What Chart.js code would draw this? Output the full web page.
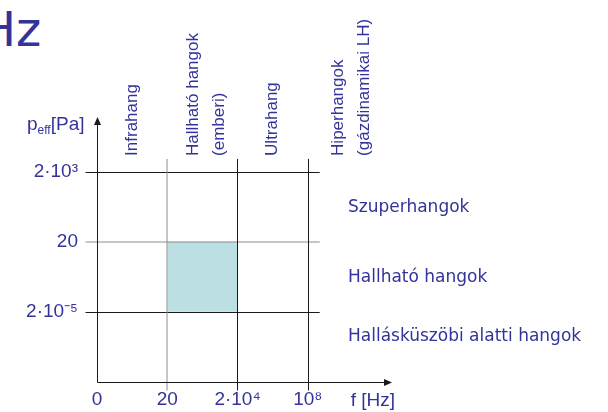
<!DOCTYPE html>
<html>
<head>
<meta charset="utf-8">
<script src="https://cdn.jsdelivr.net/npm/chart.js@4/dist/chart.umd.min.js"></script>
<style>
  html, body { margin:0; padding:0; background:#fff; }
  #wrap { position:relative; width:608px; height:412px; overflow:hidden; }
  #title { position:absolute; left:-20px; top:-1px; font:48px "DejaVu Sans", sans-serif; color:#333399; line-height:60px; }
  canvas { position:absolute; left:0; top:0; }
</style>
</head>
<body>
<div id="wrap">
  <div id="title">Hz</div>
  <canvas id="c" width="608" height="412"></canvas>
</div>
<script>
// frequency ticks (x) and effective pressure ticks (y), schematic axes
const freqLabels = ['0', '20', '2·10⁴', '10⁸'];
const pressureLabels = ['2·10⁻⁵', '20', '2·10³'];   // at levels 1, 2, 3
// frequency bands (rotated, above the grid)
const bandLabels = [['Infrahang'], ['Hallható hangok', '(emberi)'], ['Ultrahang'], ['Hiperhangok', '(gázdinamikai LH)']];
// pressure bands (right side), bottom to top
const levelLabels = ['Hallásküszöbi alatti hangok', 'Hallható hangok', 'Szuperhangok'];
// audible region: 20 Hz .. 2·10⁴ Hz, 2·10⁻⁵ Pa .. 20 Pa (tick indices)
const audibleFreq = [1, 2];
const audiblePressure = [1, 2];

const BLUE = '#333399';
const INK = '#1a1a1a';
const tickFont = { family: '"Liberation Sans", Arial, sans-serif', size: 19 };

const slidePlugin = {
  id: 'slide',
  afterDatasetsDraw(chart){
    const ctx = chart.ctx;
    const xs = chart.scales.x, ys = chart.scales.y;
    const area = chart.chartArea;
    const x0 = Math.round(area.left) + 0.5, y0 = Math.round(area.bottom) + 0.5;
    const xPix = freqLabels.map((_, i) => xs.getPixelForValue(i));
    const yPix = pressureLabels.map((_, i) => ys.getPixelForValue(i + 1));
    const lastX = xPix[xPix.length - 1], topY = yPix[yPix.length - 1];

    ctx.save();
    ctx.lineWidth = 1;
    // horizontal level lines
    yPix.forEach((p, i) => {
      const soft = i === 1;
      const y = soft ? Math.round(p) : Math.round(p) + 0.5;
      ctx.strokeStyle = soft ? '#8c8c8c' : INK;
      ctx.beginPath(); ctx.moveTo(x0 - 12, y); ctx.lineTo(lastX + 12, y); ctx.stroke();
    });
    // vertical frequency lines
    xPix.slice(1).forEach((p, i) => {
      const soft = i === 0;
      const x = soft ? Math.round(p) : Math.round(p) + 0.5;
      ctx.strokeStyle = soft ? '#8c8c8c' : INK;
      ctx.beginPath(); ctx.moveTo(x, topY - 13); ctx.lineTo(x, y0 + 8); ctx.stroke();
    });
    // axes with arrows
    ctx.strokeStyle = INK; ctx.fillStyle = INK;
    ctx.beginPath(); ctx.moveTo(x0, y0); ctx.lineTo(x0, area.top + 6); ctx.stroke();
    ctx.beginPath(); ctx.moveTo(x0, area.top + 1); ctx.lineTo(x0 - 3.5, area.top + 9); ctx.lineTo(x0 + 3.5, area.top + 9); ctx.closePath(); ctx.fill();
    ctx.beginPath(); ctx.moveTo(x0, y0); ctx.lineTo(area.right - 6, y0); ctx.stroke();
    ctx.beginPath(); ctx.moveTo(area.right, y0); ctx.lineTo(area.right - 8, y0 - 3.5); ctx.lineTo(area.right - 8, y0 + 3.5); ctx.closePath(); ctx.fill();

    // axis titles
    ctx.fillStyle = BLUE;
    ctx.textBaseline = 'middle';
    ctx.font = '19px "Liberation Sans", Arial, sans-serif';
    ctx.textAlign = 'right';
    ctx.fillText('f [Hz]', area.right + 3, y0 + 18);
    ctx.textAlign = 'left';
    let tx = 27, ty = area.top + 9;
    ctx.fillText('p', tx, ty); tx += ctx.measureText('p').width;
    ctx.font = '12px "Liberation Sans", Arial, sans-serif';
    ctx.fillText('eff', tx, ty + 6); tx += ctx.measureText('eff').width;
    ctx.font = '19px "Liberation Sans", Arial, sans-serif';
    ctx.fillText('[Pa]', tx, ty);

    // rotated band labels above the grid
    ctx.font = '17px "Liberation Sans", Arial, sans-serif';
    bandLabels.forEach((lines, i) => {
      const c = i < xPix.length - 1 ? (xPix[i] + xPix[i + 1]) / 2 + (lines.length > 1 ? 4 : 0)
                                    : lastX + 0.62 * (xPix[1] - xPix[0]);
      lines.forEach((t, k) => {
        const x = c + (k - (lines.length - 1) / 2) * 26;
        ctx.save();
        ctx.translate(x, topY - 16);
        ctx.rotate(-Math.PI / 2);
        ctx.textAlign = 'left';
        ctx.fillText(t, 0, 0);
        ctx.restore();
      });
    });

    // level labels on the right
    ctx.font = '17px "DejaVu Sans", sans-serif';
    ctx.textAlign = 'left';
    const edges = [area.bottom - 22].concat(yPix);
    levelLabels.forEach((t, i) => {
      ctx.fillText(t, 348, (edges[i] + edges[i + 1]) / 2 + 1);
    });
    ctx.restore();
  }
};

new Chart(document.getElementById('c'), {
  type: 'line',
  data: {
    datasets: [{
      label: 'Hallható hangok',
      data: audibleFreq.map(f => ({ x: f, y: audiblePressure[1] })),
      fill: { target: { value: audiblePressure[0] } },
      backgroundColor: '#bbdfe3',
      borderWidth: 0,
      pointRadius: 0
    }]
  },
  options: {
    responsive: false,
    animation: false,
    devicePixelRatio: 1,
    layout: { padding: { left: 7, right: 216, top: 116, bottom: 0 } },
    plugins: { legend: { display: false }, tooltip: { enabled: false } },
    scales: {
      x: {
        type: 'linear', min: 0, max: 4.2,
        afterBuildTicks: s => { s.ticks = freqLabels.map((_, i) => ({ value: i })); },
        afterFit: s => { s.height = 30; },
        ticks: { callback: v => freqLabels[v] ?? '', autoSkip: false, maxRotation: 0, padding: 7, font: tickFont, color: BLUE },
        grid: { display: false, drawTicks: false },
        border: { display: false }
      },
      y: {
        type: 'linear', min: 0, max: 3.8,
        afterBuildTicks: s => { s.ticks = pressureLabels.map((_, i) => ({ value: i + 1 })); },
        afterFit: s => { s.width = 90; },
        ticks: { callback: v => pressureLabels[v - 1] ?? '', autoSkip: false, padding: 19, font: tickFont, color: BLUE },
        grid: { display: false, drawTicks: false },
        border: { display: false }
      }
    }
  },
  plugins: [slidePlugin]
});
</script>
</body>
</html>
